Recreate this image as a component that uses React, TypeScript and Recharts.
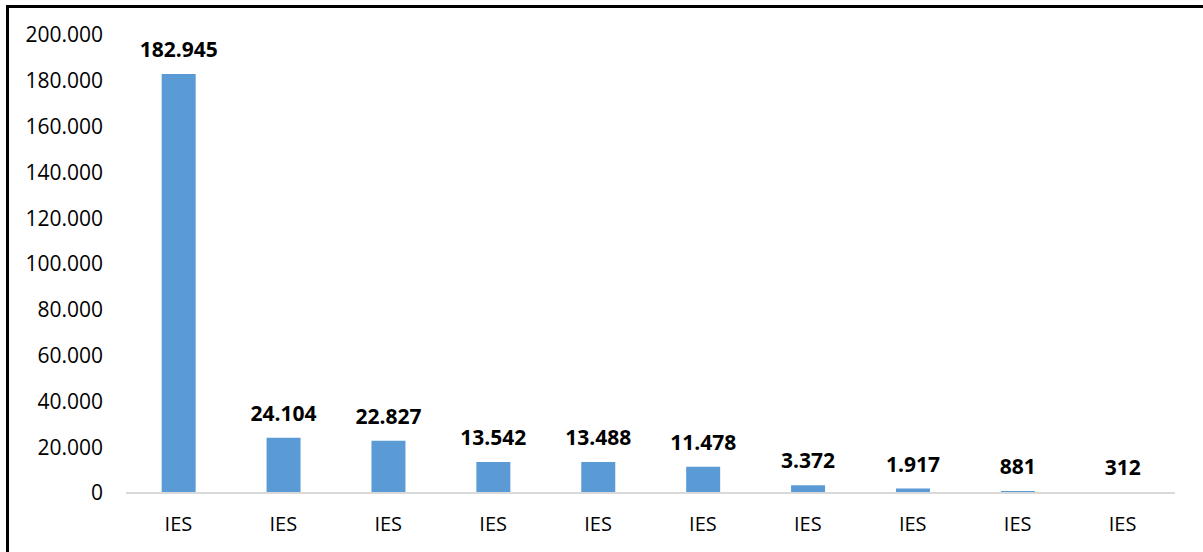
import { BarChart, Bar, XAxis, YAxis, LabelList } from "recharts";

const categories = ["IES", "IES", "IES", "IES", "IES", "IES", "IES", "IES", "IES", "IES"];
const students = [182945, 24104, 22827, 13542, 13488, 11478, 3372, 1917, 881, 312];
const yTicks = [0, 20000, 40000, 60000, 80000, 100000, 120000, 140000, 160000, 180000, 200000];

const data = categories.map((name, i) => ({ id: i, name, value: students[i] }));

// dotted thousands, like the source ("182.945")
const fmt = (v: number) => String(v).replace(/\B(?=(\d{3})+(?!\d))/g, ".");

const font = "'Open Sans', sans-serif";

export default function App() {
  return (
    <div style={{ position: "absolute", left: 0, top: 0, width: 1203, height: 552, background: "#fff", overflow: "hidden" }}>
      <div style={{ position: "absolute", left: 6, top: 5, width: 1300, height: 600, borderTop: "3px solid #000", borderLeft: "3px solid #000" }} />
      <div style={{ position: "absolute", left: 0, top: 0 }}>
        <BarChart width={1203} height={552} data={data} margin={{ top: 35, right: 28, left: 26, bottom: 19 }} barCategoryGap="34%">
          <XAxis
            dataKey="name"
            height={40}
            axisLine={{ stroke: "#d9d9d9", strokeWidth: 2 }}
            tickLine={false}
            tickMargin={18}
            tick={{ fontSize: 20, fill: "#000", fontFamily: font }}
          />
          <YAxis
            width={100}
            domain={[0, 200000]}
            ticks={yTicks}
            interval={0}
            axisLine={false}
            tickLine={false}
            tickMargin={17}
            tickFormatter={(v: number) => fmt(v)}
            tick={{ fontSize: 21, fill: "#000", fontFamily: font }}
          />
          <Bar dataKey="value" fill="#5b9bd5" isAnimationActive={false}>
            <LabelList
              dataKey="value"
              position="top"
              offset={17}
              formatter={(v: number) => fmt(v)}
              style={{ fontSize: 21, fontWeight: 700, fill: "#000", fontFamily: font }}
            />
          </Bar>
        </BarChart>
      </div>
    </div>
  );
}
